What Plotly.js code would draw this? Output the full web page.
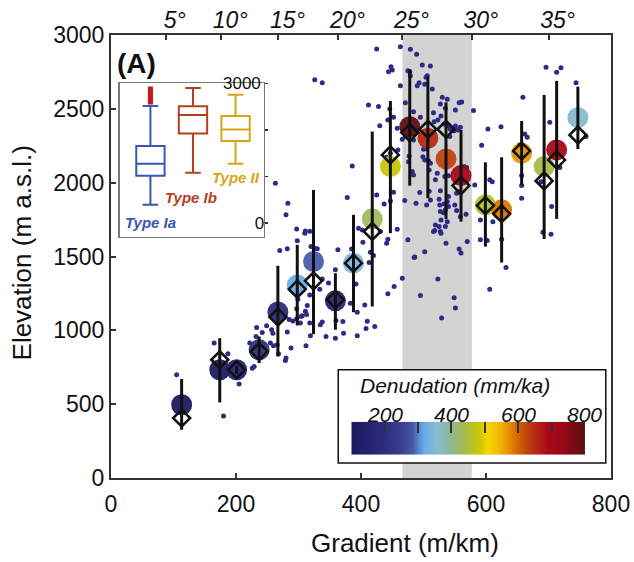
<!DOCTYPE html>
<html><head><meta charset="utf-8">
<script src="https://cdn.plot.ly/plotly-3.0.1.min.js"></script>
<style>html,body{margin:0;padding:0;background:#fff}#chart{width:634px;height:562px}</style>
</head><body><div id="chart"></div>
<script>
// ---- individual samples (small dots) ----
const dotGradient = [425,463,479,489,498,511,448,450,444,475,478,479,506,504,463,493,490,502,514,696,713,720,744,412,428,471,484,495,516,530,538,527,535,557,561,551,580,446,452,443,430,458,466,471,484,517,523,528,533,538,543,551,555,559,549,542,487,659,702,603,624,662,666,653,593,760,459,447,441,477,476,500,505,482,484,508,511,509,519,534,540,582,565,569,553,557,386,452,447,437,425,470,494,488,505,511,525,526,533,538,540,535,527,532,550,553,568,559,528,519,525,518,527,528,516,536,557,560,570,502,485,475,466,523,443,441,458,396,402,403,415,420,413,431,591,591,602,611,606,610,625,632,657,657,657,691,704,705,718,688,
263,283,280,270,282,297,298,310,311,318,320,326,330,378,363,385,359,392,383,406,338,348,334,318,314,311,313,299,297,285,291,306,318,335,338,360,371,410,408,422,394,372,359,344,319,312,288,282,280,279,266,259,268,249,257,242,233,222,227,229,232,165,187,486,453,443,495,529,535,538,540,527,509,499,502,522,538,
105,180,205,226,255,260,297,304,394,303,326,338,549,551,606];
const dotElevation = [2905,2921,2903,2869,2797,2790,2785,2763,2751,2758,2751,2724,2724,2714,2657,2677,2657,2666,2634,2781,2747,2779,2677,2526,2515,2542,2481,2443,2474,2578,2565,2533,2504,2542,2546,2492,2488,2499,2443,2425,2386,2369,2294,2312,2289,2413,2425,2452,2398,2384,2362,2384,2357,2375,2352,2312,2357,2578,2409,2364,2379,2330,2308,2255,2253,2312,2222,2199,2172,2181,2142,2226,2230,2075,2052,2149,2132,2086,2019,2041,2046,1985,2109,2102,1929,1939,2113,1935,1876,1856,1917,1879,1933,1861,1849,1883,1888,1849,1856,1872,1838,1816,1804,1797,1849,1811,1786,1770,1748,1714,1703,1676,1669,1658,1669,1590,1550,1523,1601,1533,1493,1613,1353,1347,1617,1590,1685,1692,1680,1597,1529,1506,1459,1669,1748,1613,1608,1736,2019,2007,1617,1425,1895,1980,2048,1665,1651,1838,2102,2007,
1996,1861,1782,1540,1552,1687,1606,1658,1673,1671,1567,1556,1552,1899,1545,1550,1410,1313,1184,1171,1347,1320,1279,1240,1168,1130,1107,1211,1146,1073,1064,1098,1049,1037,1056,1066,1060,1062,1012,1026,963,981,947,958,963,895,880,988,812,796,902,981,841,1031,1004,985,1019,914,873,755,958,914,841,1496,1297,1247,1236,1083,1703,1736,1906,1946,1942,2176,2154,2064,2132,
699,420,636,744,914,895,1078,1094,1123,1049,2697,2677,1220,1152,1279];

// ---- binned means ----
const binGradient   = [113,174,201,237,267,298,324,359,388,418,447,478,507,536,560,599,625,657,693,713,747];
const binElevCircle = [496,733,733,868,1125,1307,1466,1200,1455,1755,2109,2379,2301,2161,2048,1850,1816,2199,2109,2222,2440];
const binElevDiamond= [406,801,733,857,1090,1279,1335,1207,1455,1669,2188,2339,2362,2362,1980,1845,1789,2215,2012,2154,2323];
const binErrHigh    = [670,947,760,958,1437,1579,1951,1387,1782,2346,2553,2768,2718,2544,2357,2138,2172,2418,2594,2689,2650];
const binErrLow     = [327,512,705,778,823,1033,974,1004,1123,1161,1658,1980,1895,1753,1736,1567,1459,1985,1619,1755,2228];
const binDenudation = [105,115,150,205,190,317,285,170,345,430,478,790,650,625,700,455,585,565,440,695,358];

// ---- denudation scale ----
const denudRange = [100, 800];
const denudTickVals = [200,300,400,500,600,700,800];
const denudTickText = ['200','','400','','600','','800'];

// ---- slope angle (top axis) ----
const slopeDegrees = [5,10,15,20,25,30,35];
const shadeDegrees = [25,30];
const gradientRange = [0,800];
const elevationRange = [0,3000];

// ---- inset box plot ----
const boxTypes = ['Type Ia','Type Ib','Type II'];
const boxPos = [1,2,3];
const boxLowerFence = [392,1077,1270];
const boxQ1 = [1013,1920,1762];
const boxMedian = [1270,2320,2006];
const boxQ3 = [1655,2505,2298];
const boxUpperFence = [2513,2897,2756];
const boxColors = ['#3757b0','#b4401f','#d9a417'];
const outlierElevIa = [2600,2650,2700,2760,2820,2880];
const insetTicks = [0,1000,2000,3000];

const colorscale = [
 [0.00,'#1e1860'],[0.07,'#262270'],[0.14,'#2e2e7e'],[0.21,'#3a3f90'],[0.26,'#4558a6'],
 [0.29,'#5a8ed4'],[0.31,'#68aee8'],[0.36,'#86bcd6'],[0.41,'#8cb8a0'],[0.46,'#9cb86c'],
 [0.51,'#b4c028'],[0.55,'#d0c800'],[0.58,'#f4d600'],[0.62,'#f4c000'],[0.66,'#ea9c00'],
 [0.70,'#d87000'],[0.74,'#c24c0c'],[0.79,'#b42814'],[0.84,'#aa0818'],[0.90,'#98081a'],
 [0.95,'#7a0c16'],[1.00,'#561210']];

const FONT = 'Liberation Sans, Arial, Helvetica, sans-serif';
const tan = d => Math.tan(d*Math.PI/180)*1000;
const toPaperX = v => (v-gradientRange[0])/(gradientRange[1]-gradientRange[0]);

const traces = [
 {type:'scatter', mode:'markers', x:dotGradient, y:dotElevation, xaxis:'x', yaxis:'y',
  marker:{size:5, color:'#2d2b87'}, hoverinfo:'skip', showlegend:false},
 {type:'scatter', mode:'markers', x:binGradient, y:binElevCircle, xaxis:'x2', yaxis:'y',
  marker:{size:21, color:binDenudation, colorscale:colorscale, cmin:denudRange[0], cmax:denudRange[1], opacity:0.95, line:{width:0}, showscale:false},
  showlegend:false},
 {type:'scatter', mode:'markers', x:binGradient, y:binElevDiamond, xaxis:'x2', yaxis:'y',
  marker:{symbol:'diamond-open', size:13, color:'#111', line:{width:2.6, color:'#111'}},
  error_y:{type:'data', symmetric:false,
    array:binErrHigh.map((v,i)=>v-binElevDiamond[i]),
    arrayminus:binElevDiamond.map((v,i)=>v-binErrLow[i]),
    thickness:3, width:0, color:'#111'},
  showlegend:false}
];

boxPos.forEach((p,i)=>{
 traces.push({type:'box', x:[p], q1:[boxQ1[i]], median:[boxMedian[i]], q3:[boxQ3[i]],
  lowerfence:[boxLowerFence[i]], upperfence:[boxUpperFence[i]], xaxis:'x3', yaxis:'y3',
  width:0.666, whiskerwidth:0.55, boxpoints:false, fillcolor:'rgba(255,255,255,0)',
  line:{color:boxColors[i], width:2}, showlegend:false, name:boxTypes[i]});
});
traces.push({type:'scatter', mode:'markers', x:outlierElevIa.map(()=>boxPos[0]), y:outlierElevIa,
  xaxis:'x3', yaxis:'y3', marker:{symbol:'square', size:5, color:'#c41a1a'}, showlegend:false, hoverinfo:'skip'});

// colour bar as a heatmap
traces.push({type:'heatmap', x:denudRange, y:[0,1], z:[denudRange, denudRange], zsmooth:'best',
  colorscale:colorscale, zmin:denudRange[0], zmax:denudRange[1], showscale:false,
  xaxis:'x4', yaxis:'y4', hoverinfo:'skip'});

const axisBase = {showgrid:false, zeroline:false, showline:true, linecolor:'#333', linewidth:2,
  ticks:'inside', ticklen:5, tickwidth:2, tickcolor:'#333', tickfont:{family:FONT, size:23, color:'#111'}};

const annotations = [
  {text:'Gradient (m/km)', xref:'paper', yref:'paper', x:0.588, y:-0.146, showarrow:false,
   xanchor:'center', yanchor:'middle', font:{family:FONT, size:26, color:'#111'}},
  {text:'Elevation (m a.s.l.)', xref:'paper', yref:'paper', x:-0.179, y:0.508, showarrow:false, textangle:-90,
   xanchor:'center', yanchor:'middle', font:{family:FONT, size:26, color:'#111'}},
  {text:'<b>(A)</b>', xref:'paper', yref:'paper', x:0.0509, y:0.936, showarrow:false,
   xanchor:'center', yanchor:'middle', font:{family:FONT, size:28, color:'#111'}},
  {text:'Denudation (mm/ka)', xref:'paper', yref:'paper', x:0.688, y:0.209, showarrow:false,
   xanchor:'center', yanchor:'middle', font:{family:FONT, size:21, color:'#111', style:'italic'}},
  {text:'<b>'+boxTypes[0]+'</b>', xref:'x3', yref:'y3', x:1.0, y:0, showarrow:false,
   xanchor:'center', yanchor:'middle', font:{family:FONT, size:15, color:boxColors[0], style:'italic'}},
  {text:'<b>'+boxTypes[1]+'</b>', xref:'x3', yref:'y3', x:1.95, y:546, showarrow:false,
   xanchor:'center', yanchor:'middle', font:{family:FONT, size:15, color:boxColors[1], style:'italic'}},
  {text:'<b>'+boxTypes[2]+'</b>', xref:'x3', yref:'y3', x:3.0, y:975, showarrow:false,
   xanchor:'center', yanchor:'middle', font:{family:FONT, size:15, color:boxColors[2], style:'italic'}},
  {text:String(insetTicks[3]), xref:'x3 domain', yref:'y3', x:1, y:insetTicks[3], xshift:-1, showarrow:false,
   xanchor:'right', yanchor:'middle', font:{family:FONT, size:17, color:'#111'}}
];
denudTickVals.forEach((v,i)=>{
  if (denudTickText[i]) annotations.push({text:denudTickText[i], xref:'x4', yref:'paper', x:v, y:0.143,
    showarrow:false, xanchor:'center', yanchor:'middle', font:{family:FONT, size:21, color:'#111', style:'italic'}});
});

const layout = {
 width:634, height:562,
 margin:{l:111, r:23, t:35, b:84, pad:0},
 paper_bgcolor:'#fff', plot_bgcolor:'#fff',
 showlegend:false,
 xaxis:Object.assign({}, axisBase, {range:gradientRange, tickvals:[0,200,400,600,800], anchor:'y', domain:[0,1], ticklabelstandoff:4}),
 yaxis:Object.assign({}, axisBase, {range:elevationRange, tickvals:[0,500,1000,1500,2000,2500,3000], mirror:true, anchor:'x', domain:[0,1]}),
 xaxis2:Object.assign({}, axisBase, {overlaying:'x', side:'top', anchor:'y', range:gradientRange,
   tickvals:slopeDegrees.map(tan), ticktext:slopeDegrees.map(d=>d+'°'), ticklabelshift:9, ticklabelstandoff:-4,
   tickfont:{family:FONT, size:23, color:'#111', style:'italic'}}),
 xaxis3:{domain:[0.0174,0.3058], anchor:'y3', range:[0.278,3.666], showgrid:false, zeroline:false,
   showline:true, mirror:true, linecolor:'#777', linewidth:1.5, showticklabels:false, ticks:''},
 yaxis3:{domain:[0.5443,0.891], anchor:'x3', side:'right', range:[-300,3000], showgrid:false, zeroline:false,
   showline:true, mirror:true, linecolor:'#777', linewidth:1.5, tickvals:insetTicks, ticktext:['0','','',''],
   ticks:'outside', ticklen:3, tickwidth:1.5, tickcolor:'#333', ticklabelposition:'inside',
   tickfont:{family:FONT, size:17, color:'#111'}},
 xaxis4:{domain:[0.4806,0.9479], anchor:'y4', side:'top', range:denudRange, showgrid:false, zeroline:false, showline:false,
   tickvals:denudTickVals, showticklabels:false, ticks:'inside', ticklen:11, tickwidth:2, tickcolor:'#333'},
 yaxis4:{domain:[0.0526,0.127], anchor:'x4', range:[0,1], showgrid:false, zeroline:false, showline:false,
   showticklabels:false, ticks:''},
 shapes:[
  {type:'rect', xref:'paper', yref:'paper', x0:toPaperX(tan(shadeDegrees[0])), x1:toPaperX(tan(shadeDegrees[1])), y0:0, y1:1,
   fillcolor:'#d3d3d3', line:{width:0}, layer:'below'},
  {type:'rect', xref:'paper', yref:'paper', x0:0.4545, x1:0.9896, y0:0.0338, y1:0.2443,
   fillcolor:'#fff', line:{width:1.5, color:'#111'}, layer:'below'}
 ],
 annotations:annotations
};

Plotly.newPlot('chart', traces, layout, {displayModeBar:false, staticPlot:true});
</script></body></html>
